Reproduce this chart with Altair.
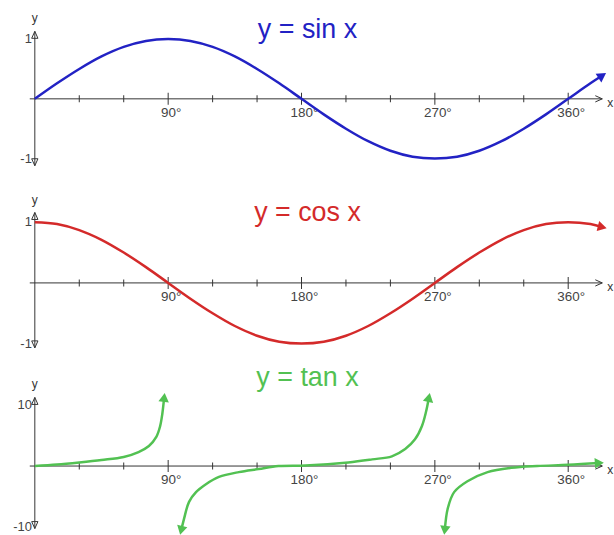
import math
import altair as alt
import pandas as pd

# ---- values (degrees -> y) ----
SIN_DEG = [0, 15, 30, 45, 60, 75, 90, 105, 120, 135, 150, 165, 180, 195, 210, 225,
           240, 255, 270, 285, 300, 315, 330, 345, 360, 375, 383]
SIN_VAL = [0, 0.26, 0.5, 0.71, 0.87, 0.97, 1.0, 0.97, 0.87, 0.71, 0.5, 0.26, 0,
           -0.26, -0.5, -0.71, -0.87, -0.97, -1.0, -0.97, -0.87, -0.71, -0.5, -0.26,
           0, 0.26, 0.39]

COS_DEG = SIN_DEG
COS_VAL = [1.0, 0.97, 0.87, 0.71, 0.5, 0.26, 0, -0.26, -0.5, -0.71, -0.87, -0.97,
           -1.0, -0.97, -0.87, -0.71, -0.5, -0.26, 0, 0.26, 0.5, 0.71, 0.87, 0.97,
           1.0, 0.97, 0.92]

# tan x drawn in three branches, stopping short of the asymptotes
TAN1_DEG = [0, 15, 30, 45, 60, 70, 77, 82, 84.5, 86, 87.3]
TAN1_VAL = [0, 0.25, 0.6, 1.0, 1.5, 2.3, 3.3, 4.8, 6.5, 8.5, 11.3]
TAN2_DEG = [98.8, 100.7, 104.1, 108.8, 115.5, 124.3, 137.7, 151, 164.5, 182.7,
            211.6, 227.7, 241, 250, 256.6, 261.3, 264, 266]
TAN2_VAL = [-10.6, -8.7, -5.9, -4.3, -3.0, -1.8, -1.0, -0.5, 0, 0.1,
            0.6, 1.1, 1.6, 2.8, 4.4, 6.6, 8.9, 11.3]
TAN3_DEG = [276.7, 278.7, 283, 292, 305.6, 321.7, 339, 360, 381]
TAN3_VAL = [-10.6, -7.0, -4.3, -2.5, -1.0, -0.3, 0, 0.2, 0.5]

# ---- axis ticks and labels ----
MINOR_TICKS = [30, 60, 120, 150, 210, 240, 300, 330]
MAJOR_TICKS = [90, 180, 270, 360]
TICK_LABELS = ["90°", "180°", "270°", "360°"]

W = 614
X_DOMAIN = [-23.5, 388.9]
AXIS_FONT = "Liberation Sans"
INK = "#333333"


def arrow_angle(d0, v0, d1, v1, height, ydom):
    """Screen angle (deg, clockwise) of the direction from point 0 to point 1."""
    ppd = W / (X_DOMAIN[1] - X_DOMAIN[0])
    ppu = height / (ydom[1] - ydom[0])
    dx = (d1 - d0) * ppd
    dy = -(v1 - v0) * ppu
    return math.degrees(math.atan2(dy, dx)) % 360


def panel(height, ydom, branches, color, title, title_y, ylabels, ytop, ybot,
          xstart=-3.4, xend=383):
    xs = alt.Scale(domain=X_DOMAIN, nice=False, zero=False)
    ys = alt.Scale(domain=ydom, nice=False, zero=False)
    X = lambda f: alt.X(f, type="quantitative", scale=xs, axis=None)
    Y = lambda f: alt.Y(f, type="quantitative", scale=ys, axis=None)

    # curve data and arrowheads at the open ends
    rows, heads = [], []
    for name, (degs, vals, head_start, head_end) in branches.items():
        for d, v in zip(degs, vals):
            rows.append({"branch": name, "deg": d, "val": v})
        if head_end:
            heads.append({"deg": degs[-1], "val": vals[-1],
                          "ang": arrow_angle(degs[-2], vals[-2], degs[-1], vals[-1], height, ydom)})
        if head_start:
            heads.append({"deg": degs[0], "val": vals[0],
                          "ang": arrow_angle(degs[1], vals[1], degs[0], vals[0], height, ydom)})
    curve_df = pd.DataFrame(rows)
    heads_df = pd.DataFrame(heads)

    xaxis_df = pd.DataFrame({"deg": [xstart, xend], "val": [0, 0]})
    yaxis_df = pd.DataFrame({"deg": [0, 0], "val": [ybot, ytop]})
    minor_df = pd.DataFrame({"deg": MINOR_TICKS, "val": 0})
    major_df = pd.DataFrame({"deg": MAJOR_TICKS, "val": 0, "lab": TICK_LABELS})
    ylab_df = pd.DataFrame({"deg": 0, "val": [v for v, _ in ylabels],
                            "lab": [t for _, t in ylabels]})

    xaxis = alt.Chart(xaxis_df).mark_line(color=INK, strokeWidth=1).encode(
        x=X("deg"), y=Y("val"))
    yaxis = alt.Chart(yaxis_df).mark_line(color=INK, strokeWidth=1).encode(
        x=X("deg"), y=Y("val"))
    minor = alt.Chart(minor_df).mark_tick(
        orient="vertical", size=7, thickness=1, color=INK, opacity=1).encode(
        x=X("deg"), y=Y("val"))
    major = alt.Chart(major_df).mark_tick(
        orient="vertical", size=12, thickness=1, color=INK, opacity=1).encode(
        x=X("deg"), y=Y("val"))
    tlabels = alt.Chart(major_df).mark_text(
        dx=3, dy=14, fontSize=13.5, font=AXIS_FONT, color="#444444").encode(
        x=X("deg"), y=Y("val"), text="lab:N")
    ylab = alt.Chart(ylab_df).mark_text(
        align="right", dx=-3, fontSize=13, font=AXIS_FONT, color="#444444").encode(
        x=X("deg"), y=Y("val"), text="lab:N")

    up_head = alt.Chart(pd.DataFrame({"deg": [0], "val": [ytop]})).mark_point(
        shape="M0,0L-0.9,2L0.9,2Z", size=49, filled=False, stroke=INK,
        strokeWidth=1, opacity=1).encode(x=X("deg"), y=Y("val"))
    down_head = alt.Chart(pd.DataFrame({"deg": [0], "val": [ybot]})).mark_point(
        shape="M0,0L-0.9,-2L0.9,-2Z", size=49, filled=False, stroke=INK,
        strokeWidth=1, opacity=1).encode(x=X("deg"), y=Y("val"))
    right_head = alt.Chart(pd.DataFrame({"deg": [xend], "val": [0]})).mark_point(
        shape="M-2,-0.9L0,0L-2,0.9", size=49, filled=False, stroke=INK,
        strokeWidth=1, opacity=1).encode(x=X("deg"), y=Y("val"))
    ylet = alt.Chart(pd.DataFrame({"deg": [0], "val": [ytop], "t": ["y"]})).mark_text(
        dy=-13, fontSize=12, font=AXIS_FONT, color=INK).encode(
        x=X("deg"), y=Y("val"), text="t:N")
    xlet = alt.Chart(pd.DataFrame({"deg": [xend], "val": [0], "t": ["x"]})).mark_text(
        align="left", dx=5, dy=4, fontSize=12, font=AXIS_FONT, color=INK).encode(
        x=X("deg"), y=Y("val"), text="t:N")

    curve = alt.Chart(curve_df).mark_line(
        interpolate="catmull-rom", strokeWidth=2.5, color=color).encode(
        x=X("deg"), y=Y("val"), detail="branch:N", order="deg:Q")
    arrows = alt.Chart(heads_df).mark_point(
        shape="triangle-right", filled=True, size=110, color=color, opacity=1).encode(
        x=X("deg"), y=Y("val"), angle=alt.Angle("ang:Q", scale=None))

    ttl = alt.Chart(pd.DataFrame({"t": [title]})).mark_text(
        fontSize=27, font="Liberation Sans", color=color, baseline="alphabetic").encode(
        x=alt.value(309), y=alt.value(title_y), text="t:N")

    return alt.layer(xaxis, yaxis, minor, major, tlabels, ylab, up_head, down_head,
                     right_head, ylet, xlet, curve, arrows, ttl).properties(
        width=W, height=height)


sin_panel = panel(
    178, [-1.333, 1.633],
    {"s": (SIN_DEG, SIN_VAL, False, True)},
    "#2222c4", "y = sin x", 37, [(1, "1"), (-1, "-1")], 1.13, -1.12)

cos_panel = panel(
    178, [-1.197, 1.721],
    {"c": (COS_DEG, COS_VAL, False, True)},
    "#d42a2a", "y = cos x", 43, [(1, "1"), (-1, "-1")], 1.16, -1.07)

tan_panel = panel(
    179, [-11.15, 18.2],
    {"t1": (TAN1_DEG, TAN1_VAL, False, True),
     "t2": (TAN2_DEG, TAN2_VAL, True, True),
     "t3": (TAN3_DEG, TAN3_VAL, True, True)},
    "#52c152", "y = tan x", 31, [(10, "10"), (-10, "-10")], 11.3, -10.3)

chart = alt.vconcat(sin_panel, cos_panel, tan_panel, spacing=0).properties(
    padding=0, background="white").configure_view(stroke=None)

chart.save("out.html", embed_options={"renderer": "svg", "actions": False})
